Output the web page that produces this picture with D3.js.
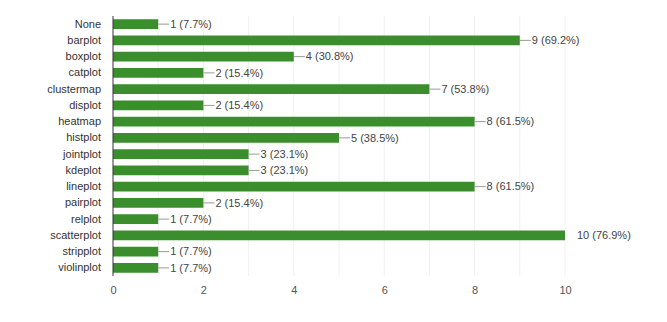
<!DOCTYPE html>
<html>
<head>
<meta charset="utf-8">
<script src="https://cdn.jsdelivr.net/npm/d3@7"></script>
<style>
  body { margin: 0; background: #fff; }
  text { font-family: "Liberation Sans", Arial, sans-serif; }
</style>
</head>
<body>
<svg id="chart" width="667" height="322"></svg>
<script>
// data
const categories = ["None", "barplot", "boxplot", "catplot", "clustermap", "displot", "heatmap",
  "histplot", "jointplot", "kdeplot", "lineplot", "pairplot", "relplot", "scatterplot",
  "stripplot", "violinplot"];
const counts = [1, 9, 4, 2, 7, 2, 8, 5, 3, 3, 8, 2, 1, 10, 1, 1];
const percents = ["7.7%", "69.2%", "30.8%", "15.4%", "53.8%", "15.4%", "61.5%", "38.5%",
  "23.1%", "23.1%", "61.5%", "15.4%", "7.7%", "76.9%", "7.7%", "7.7%"];
const xTicks = [0, 2, 4, 6, 8, 10];

const rows = categories.map((c, i) => ({ cat: c, n: counts[i], pct: percents[i] }));

const svg = d3.select("#chart");
const margin = { top: 16, right: 102, bottom: 46, left: 113 };
const w = 667 - margin.left - margin.right;
const h = 322 - margin.top - margin.bottom;
const chartArea = svg.append("g")
  .attr("transform", `translate(${margin.left},${margin.top})`);

const xScale = d3.scaleLinear().domain([0, 10]).range([0, w]);
const yScale = d3.scaleBand().domain(categories).range([0, h]).paddingInner(0.4).paddingOuter(0.2);

// clip for annotation stems
svg.append("clipPath").attr("id", "plotclip")
  .append("rect").attr("width", w).attr("height", h);

// gridlines at every integer
chartArea.selectAll("line.grid")
  .data(d3.range(1, 11))
  .enter().append("line")
  .attr("class", "grid")
  .attr("x1", d => xScale(d)).attr("x2", d => xScale(d))
  .attr("y1", 0).attr("y2", h)
  .attr("stroke", "#f0f0f0").attr("stroke-width", 1);

// x tick labels
const xAxis = chartArea.append("g")
  .attr("transform", `translate(0,${h})`)
  .call(d3.axisBottom(xScale).tickValues(xTicks).tickSize(0).tickPadding(10));
xAxis.select(".domain").remove();
xAxis.selectAll("text").attr("fill", "#555").attr("font-size", 11)
  .style("font-family", "Liberation Sans, Arial, sans-serif");

// y category labels
const yAxis = chartArea.append("g")
  .call(d3.axisLeft(yScale).tickSize(0).tickPadding(12));
yAxis.select(".domain").remove();
yAxis.selectAll("text").attr("fill", "#333").attr("font-size", 11)
  .style("font-family", "Liberation Sans, Arial, sans-serif");

// bars
chartArea.selectAll("rect.bar")
  .data(rows)
  .enter().append("rect")
  .attr("class", "bar")
  .attr("x", 0)
  .attr("y", d => yScale(d.cat))
  .attr("width", d => xScale(d.n))
  .attr("height", yScale.bandwidth())
  .attr("fill", "#3a8e2c");

// annotation stems (clipped to plot area like the original)
chartArea.append("g").attr("clip-path", "url(#plotclip)")
  .selectAll("line.stem")
  .data(rows)
  .enter().append("line")
  .attr("x1", d => xScale(d.n)).attr("x2", d => xScale(d.n) + 11)
  .attr("y1", d => yScale(d.cat) + yScale.bandwidth() / 2)
  .attr("y2", d => yScale(d.cat) + yScale.bandwidth() / 2)
  .attr("stroke", "#999").attr("stroke-width", 1);

// annotation labels
chartArea.selectAll("text.ann")
  .data(rows)
  .enter().append("text")
  .attr("class", "ann")
  .attr("x", d => xScale(d.n) + 12)
  .attr("y", d => yScale(d.cat) + yScale.bandwidth() / 2)
  .attr("dy", "0.35em")
  .attr("font-size", 11)
  .attr("fill", "#444")
  .text(d => `${d.n} (${d.pct})`);

// baseline
chartArea.append("line")
  .attr("x1", 0).attr("x2", 0).attr("y1", 0).attr("y2", h)
  .attr("stroke", "#333").attr("stroke-width", 1);
</script>
</body>
</html>
